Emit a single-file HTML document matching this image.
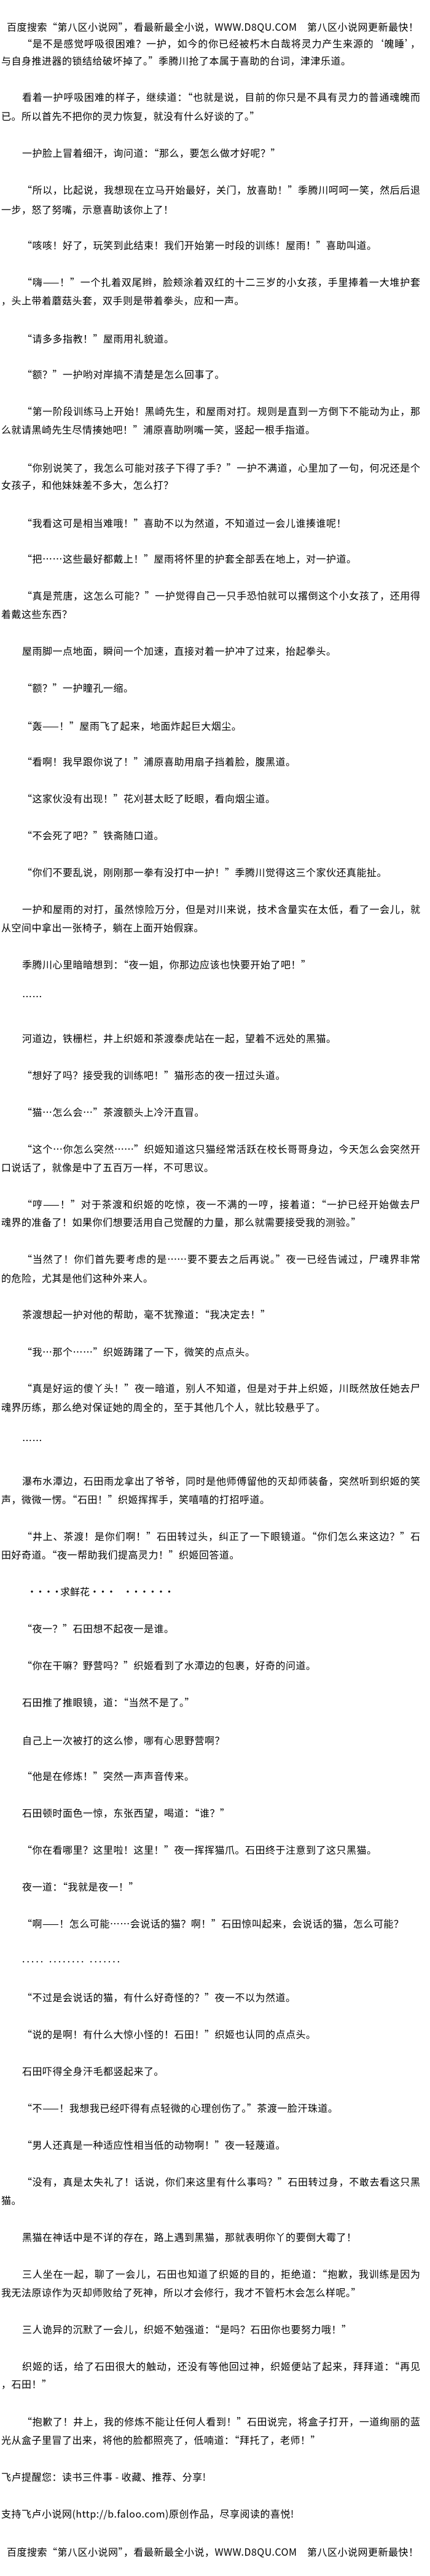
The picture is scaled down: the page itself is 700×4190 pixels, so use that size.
<!DOCTYPE html>
<html><head><meta charset="utf-8">
<style>
html,body{margin:0;padding:0;background:#fff;}
body{width:700px;height:4190px;position:relative;overflow:hidden;
font-family:"Liberation Sans","Noto Sans CJK SC",sans-serif;font-size:16px;color:#000;}
.l{position:absolute;white-space:nowrap;line-height:22px;height:22px;letter-spacing:0.5px;font-family:"Noto Sans CJK SC","WenQuanYi Zen Hei",sans-serif;}
.i{left:36px;}
.n{left:2px;}
.h{left:11px;}
.j{text-align:justify;text-align-last:justify;letter-spacing:0;}
.i.j{width:648px;}
.n.j{width:682px;}
.dots span{display:inline-block;width:13.5px;text-align:center;}
</style></head><body>
<div class="l h" style="top:32px">百度搜索“第八区小说网”，看最新最全小说，WWW.D8QU.COM　第八区小说网更新最快！</div>
<div class="l i j" style="top:59px">“是不是感觉呼吸很困难？一护，如今的你已经被朽木白哉将灵力产生来源的‘魄睡’，</div>
<div class="l n" style="top:87px">与自身推进器的锁结给破坏掉了。”季腾川抢了本属于喜助的台词，津津乐道。</div>
<div class="l i j" style="top:146px">看着一护呼吸困难的样子，继续道：“也就是说，目前的你只是不具有灵力的普通魂魄而</div>
<div class="l n" style="top:177px">已。所以首先不把你的灵力恢复，就没有什么好谈的了。”</div>
<div class="l i" style="top:237px">一护脸上冒着细汗，询问道：“那么，要怎么做才好呢？”</div>
<div class="l i j" style="top:297px">“所以，比起说，我想现在立马开始最好，关门，放喜助！”季腾川呵呵一笑，然后后退</div>
<div class="l n" style="top:329px">一步，怒了努嘴，示意喜助该你上了！</div>
<div class="l i" style="top:387px">“咳咳！好了，玩笑到此结束！我们开始第一时段的训练！屋雨！”喜助叫道。</div>
<div class="l i j" style="top:447px">“嗨——！”一个扎着双尾辫，脸颊涂着双红的十二三岁的小女孩，手里捧着一大堆护套</div>
<div class="l n" style="top:477px">，头上带着蘑菇头套，双手则是带着拳头，应和一声。</div>
<div class="l i" style="top:539px">“请多多指教！”屋雨用礼貌道。</div>
<div class="l i" style="top:597px">“额？”一护哟对岸搞不清楚是怎么回事了。</div>
<div class="l i j" style="top:657px">“第一阶段训练马上开始！黑崎先生，和屋雨对打。规则是直到一方倒下不能动为止，那</div>
<div class="l n" style="top:687px">么就请黑崎先生尽情揍她吧！”浦原喜助咧嘴一笑，竖起一根手指道。</div>
<div class="l i j" style="top:749px">“你别说笑了，我怎么可能对孩子下得了手？”一护不满道，心里加了一句，何况还是个</div>
<div class="l n" style="top:777px">女孩子，和他妹妹差不多大，怎么打？</div>
<div class="l i" style="top:839px">“我看这可是相当难哦！”喜助不以为然道，不知道过一会儿谁揍谁呢！</div>
<div class="l i" style="top:897px">“把……这些最好都戴上！”屋雨将怀里的护套全部丢在地上，对一护道。</div>
<div class="l i j" style="top:957px">“真是荒唐，这怎么可能？”一护觉得自己一只手恐怕就可以撂倒这个小女孩了，还用得</div>
<div class="l n" style="top:987px">着戴这些东西？</div>
<div class="l i" style="top:1047px">屋雨脚一点地面，瞬间一个加速，直接对着一护冲了过来，抬起拳头。</div>
<div class="l i" style="top:1107px">“额？”一护瞳孔一缩。</div>
<div class="l i" style="top:1169px">“轰——！”屋雨飞了起来，地面炸起巨大烟尘。</div>
<div class="l i" style="top:1227px">“看啊！我早跟你说了！”浦原喜助用扇子挡着脸，腹黑道。</div>
<div class="l i" style="top:1287px">“这家伙没有出现！”花刈甚太眨了眨眼，看向烟尘道。</div>
<div class="l i" style="top:1347px">“不会死了吧？”铁斋随口道。</div>
<div class="l i" style="top:1407px">“你们不要乱说，刚刚那一拳有没打中一护！”季腾川觉得这三个家伙还真能扯。</div>
<div class="l i j" style="top:1467px">一护和屋雨的对打，虽然惊险万分，但是对川来说，技术含量实在太低，看了一会儿，就</div>
<div class="l n" style="top:1497px">从空间中拿出一张椅子，躺在上面开始假寐。</div>
<div class="l i" style="top:1557px">季腾川心里暗暗想到：“夜一姐，你那边应该也快要开始了吧！”</div>
<div class="l i" style="top:1609px">……</div>
<div class="l i" style="top:1677px">河道边，铁栅栏，井上织姬和茶渡泰虎站在一起，望着不远处的黑猫。</div>
<div class="l i" style="top:1737px">“想好了吗？接受我的训练吧！”猫形态的夜一扭过头道。</div>
<div class="l i" style="top:1797px">“猫…怎么会…”茶渡额头上冷汗直冒。</div>
<div class="l i j" style="top:1857px">“这个…你怎么突然……”织姬知道这只猫经常活跃在校长哥哥身边，今天怎么会突然开</div>
<div class="l n" style="top:1887px">口说话了，就像是中了五百万一样，不可思议。</div>
<div class="l i j" style="top:1947px">“哼——！”对于茶渡和织姬的吃惊，夜一不满的一哼，接着道：“一护已经开始做去尸</div>
<div class="l n" style="top:1976px">魂界的准备了！如果你们想要活用自己觉醒的力量，那么就需要接受我的测验。”</div>
<div class="l i j" style="top:2036px">“当然了！你们首先要考虑的是……要不要去之后再说。”夜一已经告诫过，尸魂界非常</div>
<div class="l n" style="top:2067px">的危险，尤其是他们这种外来人。</div>
<div class="l i" style="top:2126px">茶渡想起一护对他的帮助，毫不犹豫道：“我决定去！”</div>
<div class="l i" style="top:2187px">“我…那个……”织姬踌躇了一下，微笑的点点头。</div>
<div class="l i j" style="top:2246px">“真是好运的傻丫头！”夜一暗道，别人不知道，但是对于井上织姬，川既然放任她去尸</div>
<div class="l n" style="top:2277px">魂界历练，那么绝对保证她的周全的，至于其他几个人，就比较悬乎了。</div>
<div class="l i" style="top:2331px">……</div>
<div class="l i j" style="top:2397px">瀑布水潭边，石田雨龙拿出了爷爷，同时是他师傅留他的灭却师装备，突然听到织姬的笑</div>
<div class="l n" style="top:2427px">声，微微一愣。“石田！”织姬挥挥手，笑嘻嘻的打招呼道。</div>
<div class="l i j" style="top:2487px">“井上、茶渡！是你们啊！”石田转过头，纠正了一下眼镜道。“你们怎么来这边？”石</div>
<div class="l n" style="top:2517px">田好奇道。“夜一帮助我们提高灵力！”织姬回答道。</div>
<div class="l dots" style="top:2577px;left:44px;letter-spacing:0"><span>•</span><span>•</span><span>•</span><span>•</span>求鲜花<span>•</span><span>•</span><span>•</span><span> </span><span>•</span><span>•</span><span>•</span><span>•</span><span>•</span><span>•</span></div>
<div class="l i" style="top:2637px">“夜一？”石田想不起夜一是谁。</div>
<div class="l i" style="top:2697px">“你在干嘛？野营吗？”织姬看到了水潭边的包裹，好奇的问道。</div>
<div class="l i" style="top:2757px">石田推了推眼镜，道：“当然不是了。”</div>
<div class="l i" style="top:2819px">自己上一次被打的这么惨，哪有心思野营啊？</div>
<div class="l i" style="top:2877px">“他是在修炼！”突然一声声音传来。</div>
<div class="l i" style="top:2937px">石田顿时面色一惊，东张西望，喝道：“谁？”</div>
<div class="l i" style="top:2997px">“你在看哪里？这里啦！这里！”夜一挥挥猫爪。石田终于注意到了这只黑猫。</div>
<div class="l i" style="top:3057px">夜一道：“我就是夜一！”</div>
<div class="l i" style="top:3117px">“啊——！怎么可能……会说话的猫？啊！”石田惊叫起来，会说话的猫，怎么可能？</div>
<div class="l i" style="top:3174px;letter-spacing:3px">..... ........ .......</div>
<div class="l i" style="top:3237px">“不过是会说话的猫，有什么好奇怪的？”夜一不以为然道。</div>
<div class="l i" style="top:3297px">“说的是啊！有什么大惊小怪的！石田！”织姬也认同的点点头。</div>
<div class="l i" style="top:3357px">石田吓得全身汗毛都竖起来了。</div>
<div class="l i" style="top:3417px">“不——！我想我已经吓得有点轻微的心理创伤了。”茶渡一脸汗珠道。</div>
<div class="l i" style="top:3477px">“男人还真是一种适应性相当低的动物啊！”夜一轻蔑道。</div>
<div class="l i j" style="top:3537px">“没有，真是太失礼了！话说，你们来这里有什么事吗？”石田转过身，不敢去看这只黑</div>
<div class="l n" style="top:3567px">猫。</div>
<div class="l i" style="top:3627px">黑猫在神话中是不详的存在，路上遇到黑猫，那就表明你丫的要倒大霉了！</div>
<div class="l i j" style="top:3687px">三人坐在一起，聊了一会儿，石田也知道了织姬的目的，拒绝道：“抱歉，我训练是因为</div>
<div class="l n" style="top:3717px">我无法原谅作为灭却师败给了死神，所以才会修行，我才不管朽木会怎么样呢。”</div>
<div class="l i" style="top:3777px">三人诡异的沉默了一会儿，织姬不勉强道：“是吗？石田你也要努力哦！”</div>
<div class="l i j" style="top:3837px">织姬的话，给了石田很大的触动，还没有等他回过神，织姬便站了起来，拜拜道：“再见</div>
<div class="l n" style="top:3866px">，石田！”</div>
<div class="l i j" style="top:3927px">“抱歉了！井上，我的修炼不能让任何人看到！”石田说完，将盒子打开，一道绚丽的蓝</div>
<div class="l n" style="top:3957px">光从盒子里冒了出来，将他的脸都照亮了，低喃道：“拜托了，老师！”</div>
<div class="l n" style="top:4017px">飞卢提醒您：读书三件事 - 收藏、推荐、分享!</div>
<div class="l n" style="top:4077px">支持飞卢小说网(http://b.faloo.com)原创作品，尽享阅读的喜悦!</div>
<div class="l h" style="top:4139px">百度搜索“第八区小说网”，看最新最全小说，WWW.D8QU.COM　第八区小说网更新最快！</div>
</body></html>
